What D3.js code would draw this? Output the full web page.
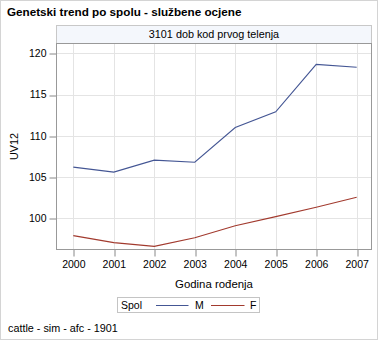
<!DOCTYPE html>
<html><head><meta charset="utf-8">
<script src="https://cdn.jsdelivr.net/npm/d3@7"></script>
<style>body{margin:0;background:#fff}svg{display:block}text{font-family:Arial,"Liberation Sans",sans-serif;fill:#000}</style>
</head><body>
<script>
const years = [2000, 2001, 2002, 2003, 2004, 2005, 2006, 2007];
const valuesM = [106.2, 105.6, 107.05, 106.8, 111.0, 112.9, 118.65, 118.3];
const valuesF = [97.9, 97.05, 96.6, 97.65, 99.1, 100.2, 101.35, 102.55];
const yTicks = [100, 105, 110, 115, 120];
const seriesNames = ["M", "F"];
const colors = ["#445694", "#A23A2E"];
const title = "Genetski trend po spolu - službene ocjene";
const panelLabel = "3101 dob kod prvog telenja";
const xLabel = "Godina rođenja";
const yLabel = "UV12";
const legendTitle = "Spol";
const footnote = "cattle - sim - afc - 1901";

const W = 378, H = 340;
const plot = {l: 56.5, r: 371.5, t: 43.5, b: 249.5};
const svg = d3.select("body").append("svg").attr("width", W).attr("height", H);

svg.append("rect").attr("x", 0.5).attr("y", 0.5).attr("width", 377).attr("height", 339)
  .attr("fill", "#fff").attr("stroke", "#d4d4d4");

svg.append("text").attr("x", 7).attr("y", 16).style("font-weight", "bold").style("font-size", "11.7px").text(title);

const x = d3.scaleLinear().domain([2000, 2007]).range([73.3, 356.7]);
const y = d3.scaleLinear().domain([96.28, 121.21]).range([249, 43.3]);

// header strip
svg.append("rect").attr("x", plot.l).attr("y", 25.5).attr("width", plot.r - plot.l).attr("height", 18)
  .attr("fill", "#f4f7fc").attr("stroke", "#c8c8c8");
svg.append("text").attr("x", (plot.l + plot.r) / 2).attr("y", 38.3).attr("text-anchor", "middle")
  .style("font-size", "10.8px").text(panelLabel);

// grid
const g = svg.append("g");
g.selectAll("line.gx").data(years).join("line")
  .attr("x1", d => Math.round(x(d)) + 0.5).attr("x2", d => Math.round(x(d)) + 0.5)
  .attr("y1", plot.t).attr("y2", plot.b).attr("stroke", "#e4e4e4");
g.selectAll("line.gy").data(yTicks).join("line")
  .attr("y1", d => Math.round(y(d)) + 0.5).attr("y2", d => Math.round(y(d)) + 0.5)
  .attr("x1", plot.l).attr("x2", plot.r).attr("stroke", "#e4e4e4");

// axes
const xAxis = d3.axisBottom(x).tickValues(years).tickFormat(d3.format("d")).tickSize(7).tickPadding(4);
const xg = svg.append("g").attr("transform", `translate(0,${plot.b})`).call(xAxis);
xg.select(".domain").remove();
xg.selectAll(".tick line").attr("stroke", "#888").attr("transform", d => `translate(${Math.round(x(d)) + 0.5 - x(d)},0)`);
xg.selectAll(".tick text").style("font-size", "10.5px").style("font-family", "Arial,'Liberation Sans',sans-serif").attr("fill", "#000");

const yAxis = d3.axisLeft(y).tickValues(yTicks).tickSize(7).tickPadding(3);
const yg = svg.append("g").attr("transform", `translate(${plot.l},0)`).call(yAxis);
yg.select(".domain").remove();
yg.selectAll(".tick line").attr("stroke", "#888").attr("transform", d => `translate(0,${Math.round(y(d)) + 0.5 - y(d)})`);
yg.selectAll(".tick text").style("font-size", "10.5px").style("font-family", "Arial,'Liberation Sans',sans-serif").attr("fill", "#000");

// frame
svg.append("rect").attr("x", plot.l).attr("y", plot.t).attr("width", plot.r - plot.l).attr("height", plot.b - plot.t)
  .attr("fill", "none").attr("stroke", "#999");

// lines
const line = d3.line().x((d, i) => x(years[i])).y(d => y(d));
[valuesM, valuesF].forEach((vals, k) => {
  svg.append("path").datum(vals).attr("d", line).attr("fill", "none").attr("stroke", colors[k]).attr("stroke-width", 1.1);
});

// axis labels
svg.append("text").attr("x", (plot.l + plot.r) / 2).attr("y", 288).attr("text-anchor", "middle")
  .style("font-size", "11.4px").text(xLabel);
svg.append("text").attr("transform", `translate(17.5,${(plot.t + plot.b) / 2}) rotate(-90)`).attr("text-anchor", "middle")
  .style("font-size", "10.8px").text(yLabel);

// legend
const lg = svg.append("g");
lg.append("rect").attr("x", 117.5).attr("y", 297.5).attr("width", 142).attr("height", 15)
  .attr("fill", "#fff").attr("stroke", "#c4c4c4");
lg.append("text").attr("x", 121).attr("y", 309.3).style("font-size", "10.5px").text(legendTitle);
const legX = [[156, 188.5, 195], [211, 244.5, 250]];
seriesNames.forEach((n, i) => {
  lg.append("line").attr("x1", legX[i][0]).attr("x2", legX[i][1]).attr("y1", 305.5).attr("y2", 305.5)
    .attr("stroke", colors[i]).attr("stroke-width", 1.1);
  lg.append("text").attr("x", legX[i][2]).attr("y", 309.3).style("font-size", "10.5px").text(n);
});

svg.append("text").attr("x", 8).attr("y", 332).style("font-size", "10.8px").text(footnote);
</script>
</body></html>
